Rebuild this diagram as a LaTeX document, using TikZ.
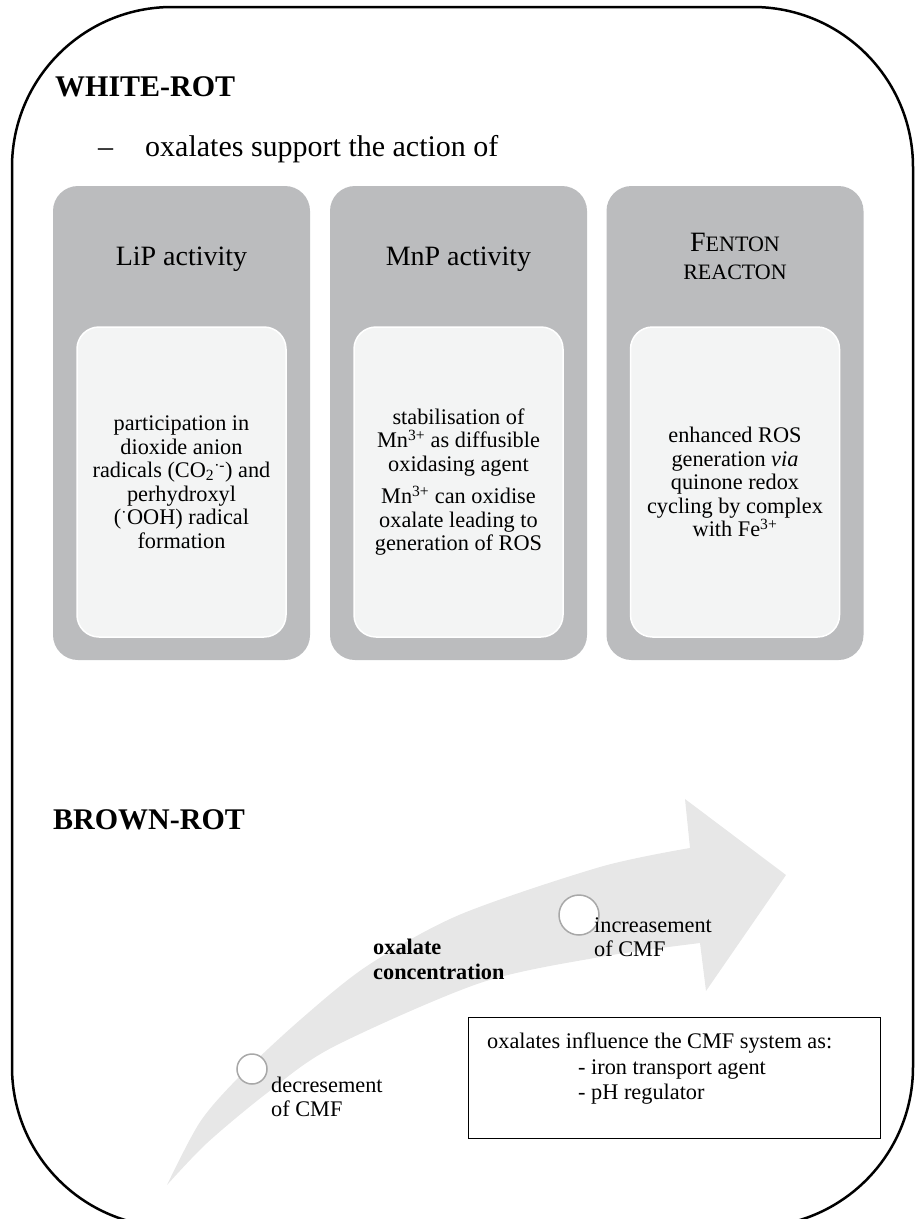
\documentclass[tikz,border=0pt]{standalone}
\usepackage{fontspec}
\setmainfont{Liberation Serif}
\usepackage{tikz}
\usetikzlibrary{calc,positioning}
\definecolor{boxgrey}{RGB}{187,188,190}
\definecolor{cardfill}{RGB}{243,244,244}
\definecolor{arrowgrey}{RGB}{231,231,231}
\definecolor{dotgrey}{RGB}{168,168,168}
\newcommand{\fsz}[2]{\fontsize{#1}{#2}\selectfont}
\newcommand{\minicaps}[1]{{\fsz{22}{28}#1}}

\begin{document}
\begin{tikzpicture}[x=1pt,y=-1pt,
  colbox/.style={fill=boxgrey,rounded corners=25pt,minimum width=257pt,minimum height=474pt,inner sep=0pt},
  card/.style={fill=cardfill,draw=white,line width=1.5pt,rounded corners=22pt,minimum width=209pt,minimum height=310pt,align=center,font=\fsz{22.3}{23.5},inner sep=0pt},
  colhead/.style={font=\fsz{28}{28},anchor=base,inner sep=0pt},
  stagedot/.style={circle,draw=dotgrey,fill=white,line width=1.5pt,minimum size=30pt,inner sep=0pt},
  lbl/.style={font=\fsz{22.3}{23.5},align=left,anchor=north west,inner sep=0pt}]
 \useasboundingbox (0,0) rectangle (917,1219);
 \draw[line width=2.5pt,rounded corners=160pt] (12,7) rectangle (913,1227);
 % white-rot part
 \node[font=\fsz{30}{30}\bfseries,anchor=base west,inner sep=0pt] (whiterot) at (55,96) {WHITE-ROT};
 \node[font=\fsz{30}{30},anchor=base west,inner sep=0pt] (dash) at (98,156) {–};
 \node[font=\fsz{30}{30},anchor=base west,inner sep=0pt] (support) at (145,156) {oxalates support the action of};
 \node[colbox] (lip) at (181.5,423) {};
 \node[colbox] (mnp) at (458.5,423) {};
 \node[colbox] (fenton) at (735,423) {};
 \node[colhead] (liphead) at (181.5,265) {LiP activity};
 \node[colhead] (mnphead) at (458.5,265) {MnP activity};
 \node[font=\fsz{28}{28},align=center,anchor=north,inner sep=0pt] (fentonhead) at (735,232.5) {F\minicaps{ENTON}\\\minicaps{REACTON}};
 \node[card] (lipbody) at (181.5,482) {participation in\\dioxide anion\\radicals (CO\textsubscript{2}\textsuperscript{·-}) and\\perhydroxyl\\(\textsuperscript{·}OOH) radical\\formation};
 \node[card] (mnpbody) at (458.5,482) {stabilisation of\\Mn\textsuperscript{3+} as diffusible\\oxidasing agent\\[9pt]Mn\textsuperscript{3+} can oxidise\\oxalate leading to\\generation of ROS};
 \node[card] (fentonbody) at (735,482) {enhanced ROS\\generation \textit{via}\\quinone redox\\cycling by complex\\with Fe\textsuperscript{3+}};
 % brown-rot part
 \node[font=\fsz{30}{30}\bfseries,anchor=base west,inner sep=0pt] (brownrot) at (53,829) {BROWN-ROT};
 \fill[arrowgrey] plot[smooth] coordinates {(167,1185) (200,1122) (240,1076) (300,1020) (367,966) (459,915) (600,867) (690,848)}
   -- (685,799) -- (786,875) -- (706,991) -- (700,943)
   -- plot[smooth] coordinates {(700,943) (600,957) (480,983) (333,1047) (267,1093) (207,1143) (167,1185)} -- cycle;
 \node[stagedot] (lowdot) at (252,1069) {};
 \node[stagedot,minimum size=40pt] (highdot) at (579,915) {};
 \node[lbl] (lowlbl) at ($(lowdot)+(19,8)$) {decresement\\of CMF};
 \node[lbl] (highlbl) at ($(highdot)+(15,3)$) {increasement\\of CMF};
 \node[lbl,font=\fsz{22.3}{24.5}\bfseries] (conc) at (373,939) {oxalate\\concentration};
 \node[draw,line width=1.2pt,minimum width=412pt,minimum height=121pt,anchor=north west,inner sep=0pt] (cmfbox) at (468,1017) {};
 \node[lbl,font=\fsz{22.3}{25.5}] (cmftext) at ($(cmfbox.north west)+(19,16)$) {oxalates influence the CMF system as:\\\hspace*{91pt}- iron transport agent\\\hspace*{91pt}- pH regulator};
\end{tikzpicture}
\end{document}
